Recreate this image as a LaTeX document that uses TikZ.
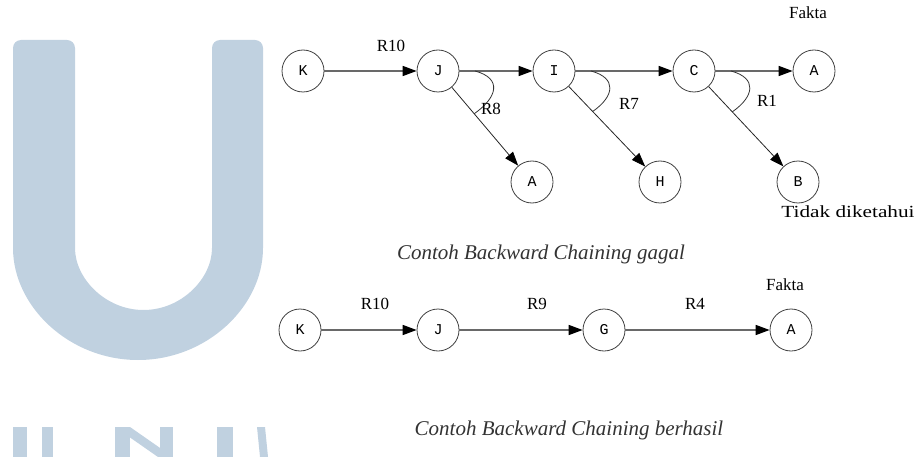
\documentclass[tikz,border=0pt]{standalone}
\usepackage{fontspec}
\setmainfont{Liberation Serif}
\setmonofont{Liberation Mono}
\usepackage{graphicx}
\usepackage{tikz}
\usetikzlibrary{arrows.meta,calc}
\definecolor{MarkBlue}{RGB}{192,209,224}
\definecolor{EdgeGray}{RGB}{105,105,105}

\begin{document}
\begin{tikzpicture}[x=1pt,y=1pt,
  st/.style={circle,draw=black!75,line width=0.8pt,minimum size=42pt,inner sep=0pt,font=\ttfamily\fontsize{15}{15}\selectfont},
  fw/.style={draw=EdgeGray,line width=1.6pt,-{Triangle[length=14pt,width=10pt,color=black]}},
  dg/.style={draw=black!85,line width=0.8pt,-{Triangle[length=14pt,width=10pt,color=black]}},
  rl/.style={font=\fontsize{17}{17}\selectfont},
  caption/.style={font=\itshape\fontsize{21}{21}\selectfont,text=black!80},
  ruleArc/.style={draw=black!80,line width=0.8pt,out=-15,in=35,looseness=1.7}]
\useasboundingbox (0,0) rectangle (920,-457);

% watermark
\fill[MarkBlue,rounded corners=8pt] (13,-40) -- (13,-240)
   arc[start angle=180,end angle=360,x radius=125,y radius=120]
   -- (263,-40) -- (212,-40) -- (212,-240)
   arc[start angle=0,end angle=-180,x radius=68.5,y radius=70]
   -- (75,-40) -- cycle;
\fill[MarkBlue] (13,-427) rectangle (27,-457);
\fill[MarkBlue] (42,-427) rectangle (53,-457);
\fill[MarkBlue] (115,-427) rectangle (130,-457);
\fill[MarkBlue] (115,-427) -- (130,-427) -- (173,-457) -- (158,-457) -- cycle;
\fill[MarkBlue] (160,-427) rectangle (173,-457);
\fill[MarkBlue] (217,-427) rectangle (233,-457);
\fill[MarkBlue] (257,-427) -- (265,-427) -- (268,-457) -- (260,-457) -- cycle;

% failed chain
\node[st] (k) at (303,-71) {K};
\node[st] (j) at (438,-71) {J};
\node[st] (i) at (554,-71) {I};
\node[st] (c) at (694,-71) {C};
\node[st] (fa) at (814,-71) {A};
\node[st] (a) at (532,-182) {A};
\node[st] (h) at (660,-182) {H};
\node[st] (b) at (798,-182) {B};
\draw[fw] (k) -- (j);
\draw[fw] (j) -- (i);
\draw[fw] (i) -- (c);
\draw[fw] (c) -- (fa);
\draw[dg] (j) -- (a);
\draw[dg] (i) -- (h);
\draw[dg] (c) -- (b);
\foreach \n/\m in {j/a,i/h,c/b} {
   \draw[ruleArc] ($(\n)!37pt!(\n.east)$) to ($(\n)!56pt!(\m)$);
}
\node[rl] (r10) at (391,-46) {R10};
\node[rl] (r8) at (491,-109) {R8};
\node[rl] (r7) at (629,-104) {R7};
\node[rl] (r1) at (767,-101) {R1};
\node[rl] (fakta) at (808,-13) {Fakta};
\node[rl] (tidak) at (848,-212) {\scalebox{1.25}[1]{Tidak diketahui}};
\node[caption] (gagal) at (541,-254) {Contoh Backward Chaining gagal};

% successful chain
\node[st] (k2) at (300,-330) {K};
\node[st] (j2) at (438,-330) {J};
\node[st] (g2) at (604,-330) {G};
\node[st] (a2) at (791,-330) {A};
\draw[fw] (k2) -- (j2);
\draw[fw] (j2) -- (g2);
\draw[fw] (g2) -- (a2);
\node[rl] (r10b) at (375,-304) {R10};
\node[rl] (r9) at (537,-304) {R9};
\node[rl] (r4) at (695,-304) {R4};
\node[rl] (fakta2) at (785,-285) {Fakta};
\node[caption] (berhasil) at (569,-430) {Contoh Backward Chaining berhasil};
\end{tikzpicture}
\end{document}
